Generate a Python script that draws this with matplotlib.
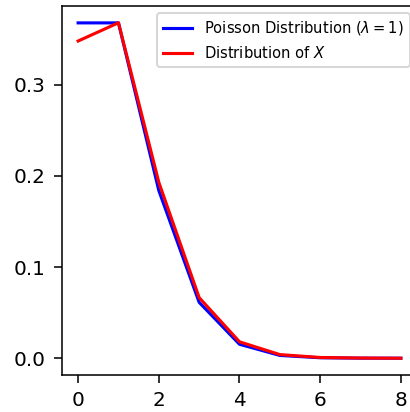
import numpy as np
import matplotlib
matplotlib.use('Agg')
import matplotlib.pyplot as plt
from math import factorial, exp

### Data #######################################################################
k = [0, 1, 2, 3, 4, 5, 6, 7, 8]
lam = 1
poisson_pmf = [exp(-lam) * lam**i / factorial(i) for i in k]
x_dist = [0.348, 0.368, 0.193, 0.0665, 0.018, 0.004, 0.0008, 0.0002, 0.0]
################################################################################

dpi = 140
fig = plt.figure(figsize=(411/dpi, 412/dpi), dpi=dpi)
ax = fig.add_axes([62/411, 37/412, 355/411, 369/412])

ax.plot(k, poisson_pmf, color='blue', linewidth=1.6, label=r'Poisson Distribution ($\lambda = 1$)')
ax.plot(k, x_dist, color='red', linewidth=1.6, label=r'Distribution of $X$')

ax.set_xticks([0, 2, 4, 6, 8])
ax.set_yticks([0.0, 0.1, 0.2, 0.3])
ax.tick_params(labelsize=10.3, length=4.2, pad=4.2)
ax.legend(loc='upper right', fontsize=7.6, bbox_to_anchor=(1.0, 1.0))

fig.savefig('out.png', dpi=dpi)
